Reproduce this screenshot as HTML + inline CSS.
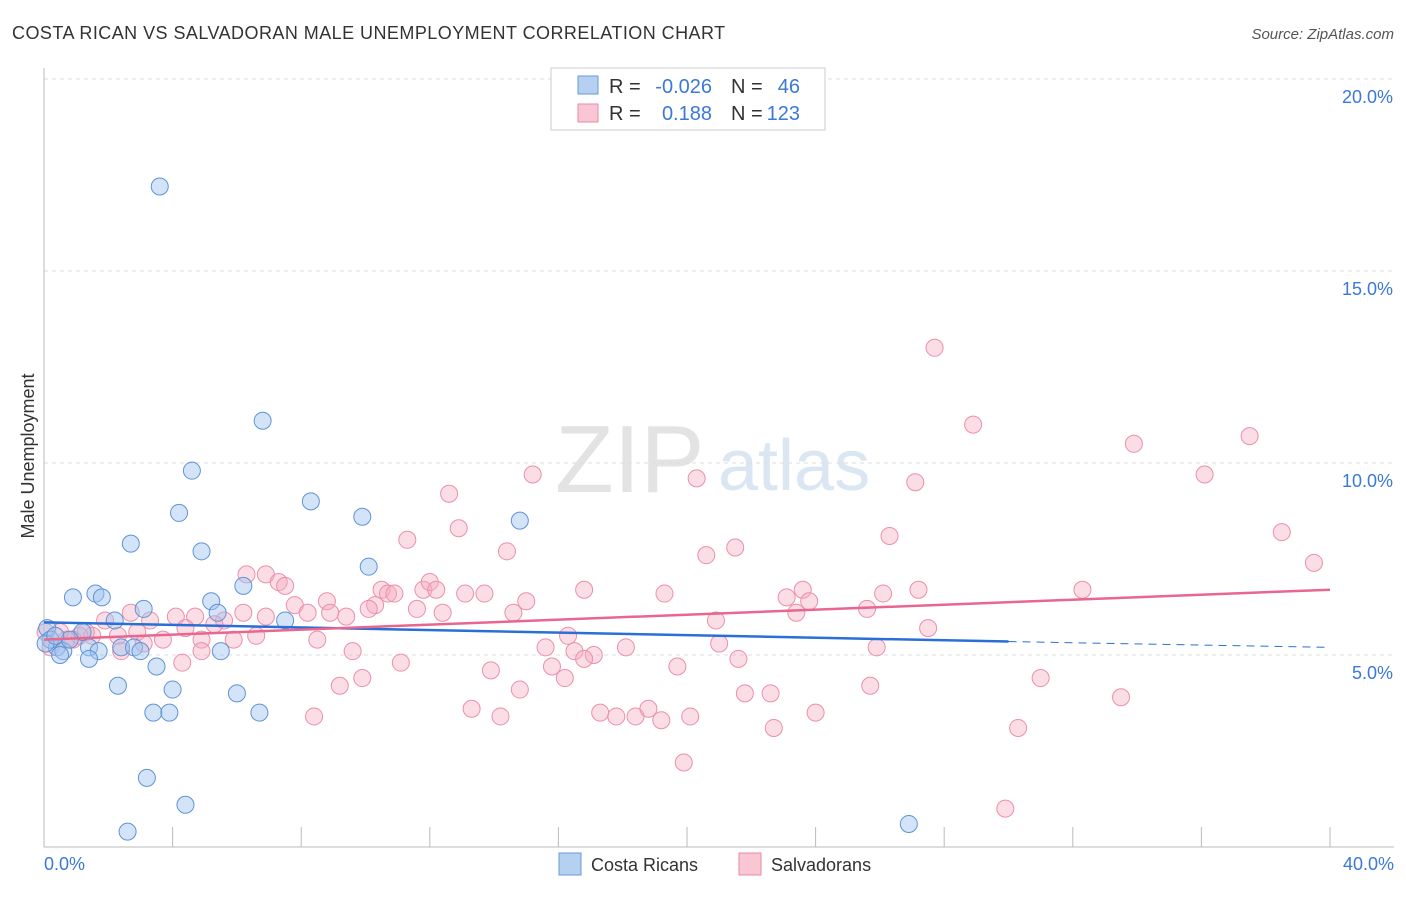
<!DOCTYPE html>
<html><head><meta charset="utf-8"><style>
body{margin:0;background:#fff;font-family:"Liberation Sans",sans-serif}
svg text{font-family:"Liberation Sans",sans-serif}
</style></head><body>
<svg id="chart" width="1406" height="892" xmlns="http://www.w3.org/2000/svg">
<text x="12" y="39" font-size="18" fill="#333" letter-spacing="0.45">COSTA RICAN VS SALVADORAN MALE UNEMPLOYMENT CORRELATION CHART</text>
<text x="1394" y="39" font-size="15" fill="#555" font-style="italic" text-anchor="end">Source: ZipAtlas.com</text>
<text x="555" y="492" font-size="96" fill="#e3e3e3" font-family="Liberation Serif">ZIP</text>
<text x="718" y="490" font-size="72" fill="#dbe6f3">atlas</text>
<g id="grid"></g><g id="axes"></g><g id="pts"></g><g id="trend"></g>
<text transform="translate(34,456) rotate(-90)" font-size="18" fill="#333" text-anchor="middle">Male Unemployment</text>
<text x="44" y="870" font-size="18" fill="#3b78d8">0.0%</text>
<text x="1394" y="870" font-size="18" fill="#3b78d8" text-anchor="end">40.0%</text>
<g font-size="20">
<rect x="551" y="68" width="274" height="62" fill="#fff" stroke="#ccc"/>
<rect x="578" y="76" width="20" height="18" fill="#b6d0f2" stroke="#6a9ad8"/>
<rect x="578" y="104" width="20" height="18" fill="#f9c6d4" stroke="#e88aa8"/>
<text x="609" y="93" fill="#333">R =</text>
<text x="712" y="93" fill="#3b78d8" text-anchor="end">-0.026</text>
<text x="731" y="93" fill="#333">N =</text>
<text x="800" y="93" fill="#3b78d8" text-anchor="end">46</text>
<text x="609" y="120" fill="#333">R =</text>
<text x="712" y="120" fill="#3b78d8" text-anchor="end">0.188</text>
<text x="731" y="120" fill="#333">N =</text>
<text x="800" y="120" fill="#3b78d8" text-anchor="end">123</text>
</g>
<g>
<rect x="559" y="853" width="22" height="22" fill="#b6d0f2" stroke="#6a9ad8"/>
<text x="591" y="871" font-size="18" fill="#333">Costa Ricans</text>
<rect x="739" y="853" width="22" height="22" fill="#f9c6d4" stroke="#e88aa8"/>
<text x="771" y="871" font-size="18" fill="#333">Salvadorans</text>
</g>
</svg>
<script>
const yTicks=[5,10,15,20];
const xTicks=[0,4,8,12,16,20,24,28,32,36,40];
const blueX=[3.6,6.8,4.6,4.2,8.3,9.9,14.8,2.7,4.9,10.1,6.2,0.9,1.6,1.8,5.2,3.1,5.4,2.2,7.5,0.1,1.2,0.4,0.6,0.5,1.4,1.7,2.4,2.8,3.0,1.4,5.5,3.5,2.3,4.0,6.0,3.4,3.9,6.7,3.2,4.4,2.6,26.9,0.2,0.8,0.05,0.35];
const blueY=[17.2,11.1,9.8,8.7,9.0,8.6,8.5,7.9,7.7,7.3,6.8,6.5,6.6,6.5,6.4,6.2,6.1,5.9,5.9,5.7,5.6,5.2,5.1,5.0,5.2,5.1,5.2,5.2,5.1,4.9,5.1,4.7,4.2,4.1,4.0,3.5,3.5,3.5,1.8,1.1,0.4,0.6,5.4,5.4,5.3,5.5];
const pinkX=[27.7,28.9,33.9,37.5,36.1,27.1,15.2,20.3,12.6,12.9,38.5,26.3,11.3,14.4,21.5,20.6,39.5,6.3,6.9,7.3,7.5,10.5,10.7,10.9,11.8,12.0,12.2,13.1,13.7,16.8,19.3,23.6,27.2,32.3,26.1,23.1,23.8,8.8,7.8,10.3,11.6,6.2,15.0,12.4,10.1,14.6,20.9,23.4,25.6,4.7,4.1,5.6,6.9,8.2,8.9,9.4,1.9,2.7,3.3,4.4,5.3,2.9,2.3,1.5,1.1,0.9,0.7,0.5,3.1,3.7,4.9,5.9,6.6,8.5,9.6,15.6,16.3,16.5,17.1,16.8,18.1,21.0,21.6,25.9,27.5,2.4,4.3,4.9,11.1,13.9,15.8,16.2,19.7,9.9,9.2,14.8,31.0,25.7,21.8,22.6,33.5,13.3,14.2,8.4,17.3,17.8,18.4,18.8,19.2,20.1,24.0,22.7,30.3,19.9,29.9,0.2,0.05,1.3];
const pinkY=[13.0,11.0,10.5,10.7,9.7,9.5,9.7,9.6,9.2,8.3,8.2,8.1,8.0,7.7,7.8,7.6,7.4,7.1,7.1,6.9,6.8,6.7,6.6,6.6,6.7,6.9,6.7,6.6,6.6,6.7,6.6,6.7,6.7,6.7,6.6,6.5,6.4,6.4,6.3,6.3,6.2,6.1,6.4,6.1,6.2,6.1,5.9,6.1,6.2,6.0,6.0,5.9,6.0,6.1,6.1,6.0,5.9,6.1,5.9,5.7,5.8,5.6,5.5,5.5,5.5,5.4,5.4,5.6,5.3,5.4,5.4,5.4,5.5,5.4,5.1,5.2,5.5,5.1,5.0,4.9,5.2,5.3,4.9,5.2,5.7,5.1,4.8,5.1,4.8,4.6,4.7,4.4,4.7,4.4,4.2,4.1,4.4,4.2,4.0,4.0,3.9,3.6,3.4,3.4,3.5,3.4,3.4,3.6,3.3,3.4,3.5,3.1,3.1,2.2,1.0,5.2,5.6,5.6];
const blueTrend=[[0,5.85],[30,5.35]], blueDash=[[30,5.35],[40,5.2]];
const pinkTrend=[[0,5.4],[40,6.7]];
const X=v=>44+v*(1330-44)/40, Y=v=>847-v*192/5;
const ns='http://www.w3.org/2000/svg';
function mk(p,t,a){const e=document.createElementNS(ns,t);for(const k in a)e.setAttribute(k,a[k]);document.getElementById(p).appendChild(e);return e;}
yTicks.forEach(t=>{
 const l=mk('grid','line',{x1:44,x2:1394,y1:Y(t),y2:Y(t),stroke:'#ddd','stroke-dasharray':'4,4'});
 
 
 const tx=mk('grid','text',{x:1393,y:Y(t)+24,'font-size':18,fill:'#3b78d8','text-anchor':'end'});tx.textContent=t.toFixed(1)+'%';
 
 
});
const xa=mk('axes','line',{x1:44,x2:1394,y1:847,y2:847,stroke:'#bbb'});


const ya=mk('axes','line',{x1:44,x2:44,y1:68,y2:847,stroke:'#bbb'});


xTicks.forEach(t=>{const l=mk('axes','line',{x1:X(t),x2:X(t),y1:827,y2:847,stroke:'#bbb'});
 
 });
pinkX.forEach((v,i)=>{const c=mk('pts','circle',{cx:X(v),cy:Y(pinkY[i]),r:8.5,fill:'rgba(246,170,192,0.4)',stroke:'#ec8fab','stroke-width':1});
 
 });
blueX.forEach((v,i)=>{const c=mk('pts','circle',{cx:X(v),cy:Y(blueY[i]),r:8.5,fill:'rgba(160,196,240,0.45)',stroke:'#5f93d6','stroke-width':1});
 
 });
const bt=mk('trend','line',{x1:X(blueTrend[0][0]),y1:Y(blueTrend[0][1]),x2:X(blueTrend[1][0]),y2:Y(blueTrend[1][1]),stroke:'#2a6fd6','stroke-width':2.5});


const bd=mk('trend','line',{x1:X(blueDash[0][0]),y1:Y(blueDash[0][1]),x2:X(blueDash[1][0]),y2:Y(blueDash[1][1]),stroke:'#2a6fd6','stroke-width':1,'stroke-dasharray':'8,6'});


const pt=mk('trend','line',{x1:X(pinkTrend[0][0]),y1:Y(pinkTrend[0][1]),x2:X(pinkTrend[1][0]),y2:Y(pinkTrend[1][1]),stroke:'#e8668f','stroke-width':2.5});


</script>
</body></html>
